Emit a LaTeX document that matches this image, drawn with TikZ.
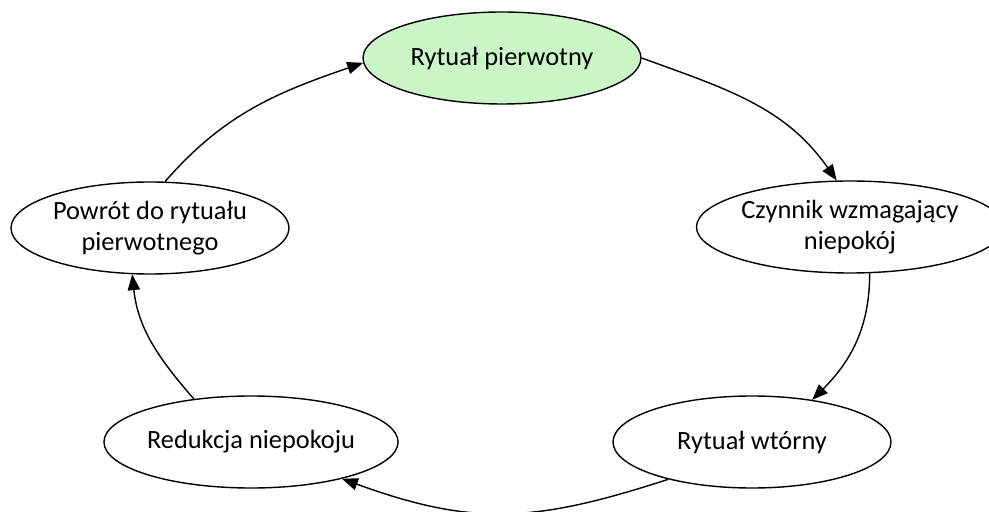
\documentclass[tikz,border=0pt]{standalone}
\usepackage{fontspec}
\setmainfont{Carlito}
\usetikzlibrary{shapes.geometric,arrows.meta}
\definecolor{ritegreen}{RGB}{202,245,198}
\begin{document}
\begin{tikzpicture}[
    stan/.style={draw, ellipse, line width=0.8pt, minimum width=5.56cm,
        minimum height=1.84cm, inner sep=0pt, align=center,
        font=\fontsize{15}{17.5}\selectfont},
    krok/.style={-{Triangle[length=9pt,width=7pt]}, line width=0.8pt}
]
    \useasboundingbox (0,0) rectangle (19.78,10.22);
    \draw (10.04,9.06) node[stan, fill=ritegreen](pierw){Rytuał pierwotny};
    \draw (17.0,5.68) node[stan](czyn){Czynnik wzmagający\\ niepokój};
    \draw (15.04,1.38) node[stan](wtor){Rytuał wtórny};
    \draw (5.02,1.38) node[stan](redu){Redukcja niepokoju};
    \draw (3.0,5.66) node[stan](powr){Powrót do rytuału\\ pierwotnego};
    \draw[krok] (pierw.east) to[out=-20, in=125] (czyn.106);
    \draw[krok] (czyn.-67) to[out=-90, in=45] (wtor.35);
    \draw[krok] (wtor.204) to[out=198, in=-20, looseness=1.1] (redu.-22);
    \draw[krok] (redu.143) to[out=131, in=-84] (powr.249);
    \draw[krok] (powr.72) to[out=49, in=199] (pierw.182);
\end{tikzpicture}
\end{document}
